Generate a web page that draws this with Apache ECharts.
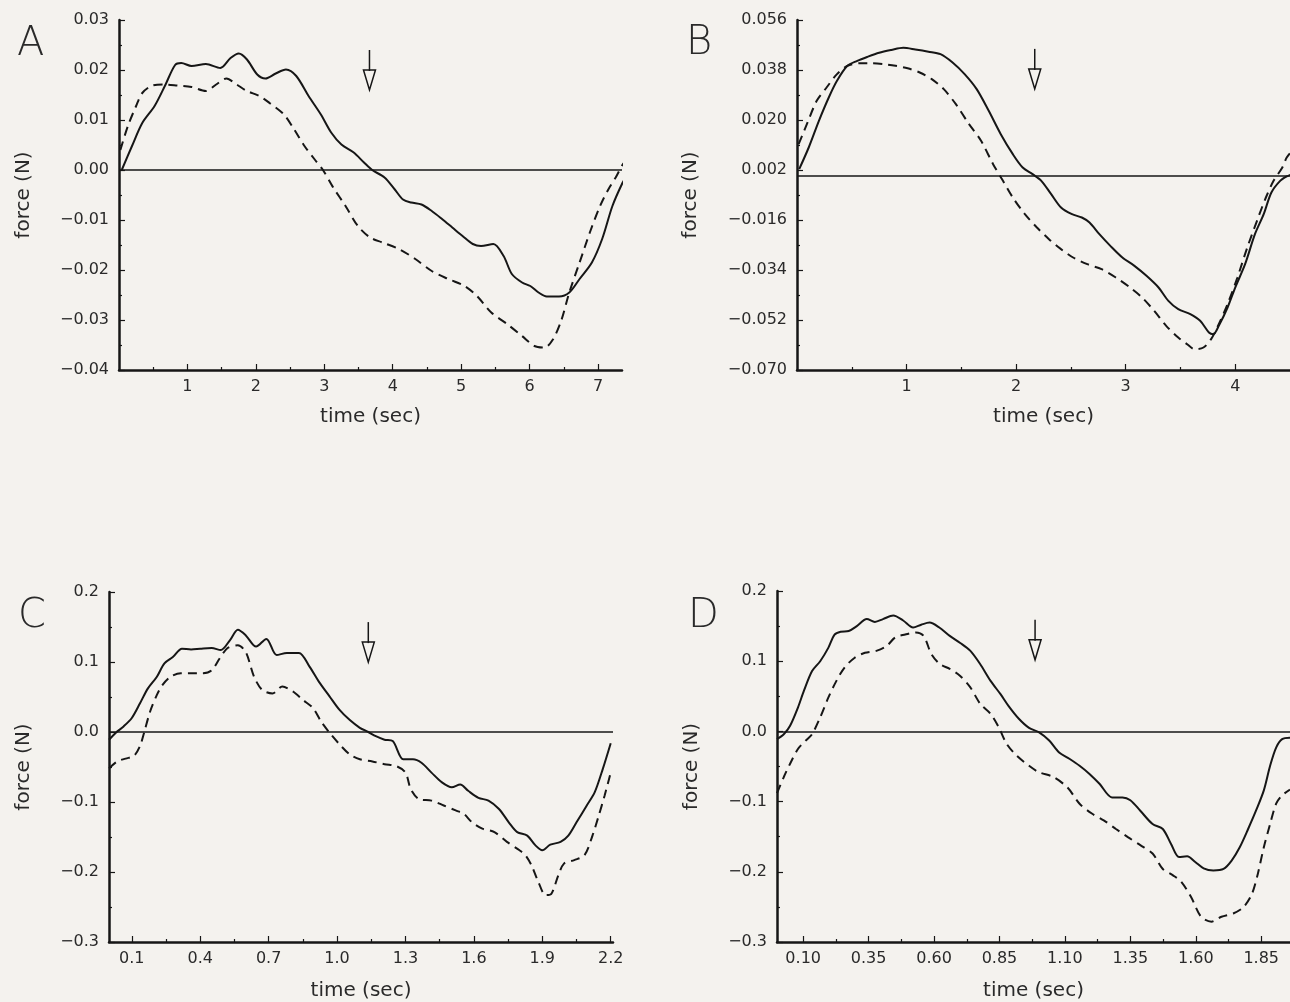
<!DOCTYPE html>
<html>
<head>
<meta charset="utf-8">
<script src="https://cdn.jsdelivr.net/npm/echarts@6/dist/echarts.min.js"></script>
<style>
html,body{margin:0;padding:0;background:#f4f2ee;}
#chart{width:1290px;height:1002px;}
</style>
</head>
<body>
<div id="chart"></div>
<script>
// ---------------- DATA ----------------
// Panel A: time (sec), force (N)
const aSolid = [[0.04,0],[0.19,0.0048],[0.34,0.0094],[0.52,0.0128],[0.67,0.0168],[0.82,0.021],[0.91,0.0214],[1.06,0.0208],[1.27,0.0212],[1.48,0.0204],[1.63,0.0224],[1.75,0.0233],[1.87,0.0221],[2.02,0.0191],[2.14,0.0183],[2.29,0.0193],[2.44,0.0201],[2.59,0.0188],[2.77,0.0148],[2.95,0.0111],[3.10,0.0075],[3.25,0.0051],[3.43,0.0035],[3.58,0.0015],[3.70,0],[3.88,-0.0015],[4.03,-0.0039],[4.15,-0.0059],[4.27,-0.0065],[4.42,-0.0069],[4.57,-0.0082],[4.72,-0.0098],[4.87,-0.0115],[5.02,-0.0132],[5.17,-0.0148],[5.29,-0.0152],[5.47,-0.0148],[5.62,-0.0172],[5.74,-0.0208],[5.89,-0.0225],[6.01,-0.0232],[6.13,-0.0245],[6.25,-0.0253],[6.43,-0.0253],[6.58,-0.0245],[6.73,-0.0218],[6.91,-0.0185],[7.06,-0.0138],[7.21,-0.0072],[7.36,-0.0025],[7.42,-0.0012]];
const aDashed = [[0.02,0.004],[0.13,0.0088],[0.25,0.0128],[0.34,0.0154],[0.49,0.0169],[0.67,0.0171],[0.85,0.0169],[1.06,0.0166],[1.27,0.0158],[1.42,0.0171],[1.57,0.0183],[1.72,0.0171],[1.87,0.0158],[2.05,0.0148],[2.20,0.0134],[2.41,0.0111],[2.56,0.0081],[2.71,0.0048],[2.86,0.0021],[2.98,0],[3.13,-0.0035],[3.31,-0.0072],[3.49,-0.0112],[3.67,-0.0135],[3.85,-0.0145],[4.09,-0.0158],[4.33,-0.0178],[4.57,-0.0202],[4.81,-0.0218],[5.05,-0.0232],[5.23,-0.0252],[5.44,-0.0285],[5.68,-0.0309],[5.89,-0.0332],[6.07,-0.0352],[6.22,-0.0355],[6.34,-0.0339],[6.46,-0.0302],[6.58,-0.0245],[6.73,-0.0185],[6.88,-0.0125],[7.03,-0.0072],[7.15,-0.0039],[7.27,-0.0012],[7.36,0.0011],[7.42,0.002]];
const aArrow = [[3.66, 0.024]];
const aXTicks = [1,2,3,4,5,6,7];
const aXMinor = [0.5,1.5,2.5,3.5,4.5,5.5,6.5];
const aYTicks = [-0.04,-0.03,-0.02,-0.01,0,0.01,0.02,0.03];
const aYMinor = [-0.035,-0.025,-0.015,-0.005,0.005,0.015,0.025];
const aBaseline = 0;

// Panel B
const bSolid = [[0.02,0.0023],[0.107,0.0101],[0.2,0.0197],[0.29,0.0281],[0.365,0.0341],[0.46,0.0395],[0.55,0.0413],[0.64,0.0427],[0.75,0.0442],[0.86,0.0452],[0.97,0.046],[1.08,0.0454],[1.2,0.0446],[1.31,0.0437],[1.42,0.0407],[1.53,0.0365],[1.64,0.0311],[1.75,0.0233],[1.86,0.0149],[1.97,0.0077],[2.06,0.0029],[2.15,0.0005],[2.23,-0.0019],[2.32,-0.0067],[2.41,-0.0115],[2.51,-0.0139],[2.6,-0.0151],[2.67,-0.0169],[2.76,-0.0211],[2.86,-0.0253],[2.97,-0.0295],[3.08,-0.0325],[3.19,-0.0361],[3.3,-0.0403],[3.39,-0.0451],[3.48,-0.0481],[3.59,-0.0499],[3.68,-0.0523],[3.76,-0.0565],[3.8,-0.0571],[3.85,-0.0541],[3.93,-0.0475],[4.0,-0.0403],[4.09,-0.0319],[4.18,-0.0211],[4.26,-0.0139],[4.33,-0.0061],[4.41,-0.0019],[4.47,-0.0003],[4.52,0.0005]];
const bDashed = [[0.015,0.0113],[0.09,0.0185],[0.18,0.0269],[0.27,0.0317],[0.365,0.0365],[0.46,0.0395],[0.57,0.0404],[0.68,0.0404],[0.79,0.0401],[0.9,0.0395],[1.01,0.0386],[1.12,0.0371],[1.23,0.0347],[1.34,0.0311],[1.45,0.0257],[1.56,0.0191],[1.68,0.0125],[1.79,0.0041],[1.88,-0.0019],[1.97,-0.0079],[2.08,-0.0139],[2.19,-0.0187],[2.3,-0.0229],[2.41,-0.0265],[2.52,-0.0295],[2.65,-0.0319],[2.78,-0.0337],[2.91,-0.0367],[3.04,-0.0403],[3.15,-0.0439],[3.26,-0.0487],[3.37,-0.0541],[3.48,-0.0583],[3.56,-0.0607],[3.63,-0.0625],[3.71,-0.0619],[3.78,-0.0589],[3.85,-0.0535],[3.93,-0.0463],[4.02,-0.0367],[4.11,-0.0259],[4.21,-0.0151],[4.28,-0.0079],[4.35,-0.0019],[4.43,0.0029],[4.47,0.0065],[4.52,0.009]];
const bArrow = [[2.17, 0.0456]];
const bXTicks = [1,2,3,4];
const bXMinor = [0.5,1.5,2.5,3.5];
const bYTicks = [-0.070,-0.052,-0.034,-0.016,0.002,0.020,0.038,0.056];
const bYMinor = [-0.061,-0.043,-0.025,-0.007,0.011,0.029,0.047];
const bBaseline = -0.001;

// Panel C
const cSolid = [[0.0,-0.011],[0.03,-0.001],[0.064,0.008],[0.1,0.02],[0.136,0.041],[0.17,0.062],[0.21,0.079],[0.243,0.098],[0.28,0.107],[0.32,0.119],[0.36,0.118],[0.4,0.119],[0.45,0.12],[0.49,0.117],[0.53,0.131],[0.565,0.146],[0.6,0.138],[0.645,0.122],[0.69,0.133],[0.735,0.11],[0.78,0.113],[0.833,0.113],[0.88,0.093],[0.92,0.072],[0.967,0.051],[1.01,0.032],[1.056,0.017],[1.1,0.006],[1.137,0],[1.17,-0.006],[1.208,-0.011],[1.244,-0.013],[1.29,-0.039],[1.333,-0.039],[1.37,-0.044],[1.414,-0.058],[1.46,-0.072],[1.503,-0.079],[1.54,-0.075],[1.575,-0.084],[1.62,-0.094],[1.664,-0.098],[1.71,-0.11],[1.753,-0.129],[1.79,-0.143],[1.834,-0.148],[1.87,-0.162],[1.9,-0.169],[1.935,-0.161],[1.98,-0.157],[2.014,-0.148],[2.05,-0.129],[2.095,-0.105],[2.13,-0.086],[2.165,-0.053],[2.2,-0.016]];
const cDashed = [[0.0,-0.052],[0.036,-0.042],[0.073,-0.038],[0.11,-0.034],[0.136,-0.02],[0.154,-0.001],[0.18,0.029],[0.21,0.053],[0.234,0.067],[0.27,0.079],[0.315,0.084],[0.36,0.084],[0.413,0.084],[0.45,0.088],[0.485,0.105],[0.52,0.12],[0.565,0.124],[0.6,0.114],[0.636,0.079],[0.672,0.06],[0.717,0.055],[0.76,0.065],[0.806,0.058],[0.85,0.046],[0.895,0.034],[0.93,0.015],[0.967,-0.001],[1.012,-0.018],[1.056,-0.032],[1.1,-0.039],[1.155,-0.042],[1.208,-0.046],[1.262,-0.049],[1.3,-0.058],[1.324,-0.082],[1.36,-0.096],[1.414,-0.098],[1.468,-0.105],[1.52,-0.112],[1.556,-0.117],[1.592,-0.129],[1.637,-0.138],[1.69,-0.143],[1.745,-0.157],[1.8,-0.169],[1.826,-0.176],[1.852,-0.19],[1.88,-0.212],[1.915,-0.233],[1.94,-0.231],[1.97,-0.205],[1.995,-0.188],[2.04,-0.183],[2.085,-0.176],[2.12,-0.148],[2.147,-0.12],[2.173,-0.091],[2.2,-0.058]];
const cArrow = [[1.137, 0.157]];
const cXTicks = [0.1,0.4,0.7,1.0,1.3,1.6,1.9,2.2];
const cXMinor = [0.25,0.55,0.85,1.15,1.45,1.75,2.05];
const cYTicks = [-0.3,-0.2,-0.1,0,0.1,0.2];
const cYMinor = [-0.25,-0.15,-0.05,0.05,0.15];
const cBaseline = 0;

// Panel D
const dSolid = [[0.0,-0.011],[0.026,-0.004],[0.05,0.008],[0.08,0.034],[0.103,0.058],[0.134,0.086],[0.165,0.1],[0.196,0.119],[0.22,0.138],[0.243,0.142],[0.274,0.143],[0.305,0.15],[0.343,0.16],[0.374,0.156],[0.405,0.16],[0.444,0.165],[0.482,0.158],[0.52,0.148],[0.551,0.152],[0.583,0.155],[0.62,0.148],[0.66,0.136],[0.7,0.126],[0.738,0.115],[0.776,0.096],[0.816,0.072],[0.854,0.053],[0.885,0.036],[0.924,0.018],[0.963,0.005],[1.0,-0.001],[1.04,-0.013],[1.078,-0.03],[1.117,-0.039],[1.156,-0.049],[1.195,-0.061],[1.233,-0.075],[1.28,-0.094],[1.32,-0.094],[1.35,-0.098],[1.388,-0.113],[1.435,-0.132],[1.474,-0.139],[1.505,-0.16],[1.536,-0.179],[1.567,-0.178],[1.598,-0.186],[1.63,-0.195],[1.667,-0.198],[1.706,-0.196],[1.737,-0.184],[1.768,-0.165],[1.8,-0.139],[1.83,-0.113],[1.86,-0.084],[1.884,-0.049],[1.907,-0.023],[1.93,-0.011],[1.96,-0.009]];
const dDashed = [[0.0,-0.088],[0.026,-0.065],[0.05,-0.046],[0.08,-0.025],[0.11,-0.013],[0.134,-0.004],[0.165,0.02],[0.196,0.048],[0.227,0.072],[0.258,0.091],[0.297,0.105],[0.336,0.112],[0.382,0.115],[0.42,0.122],[0.452,0.134],[0.49,0.138],[0.53,0.141],[0.56,0.136],[0.59,0.11],[0.622,0.096],[0.66,0.089],[0.7,0.079],[0.738,0.063],[0.777,0.039],[0.816,0.025],[0.847,0.006],[0.878,-0.018],[0.917,-0.035],[0.963,-0.049],[1.0,-0.058],[1.056,-0.065],[1.11,-0.08],[1.156,-0.103],[1.203,-0.117],[1.25,-0.127],[1.295,-0.139],[1.342,-0.151],[1.388,-0.162],[1.435,-0.174],[1.474,-0.196],[1.513,-0.205],[1.544,-0.214],[1.582,-0.236],[1.62,-0.264],[1.66,-0.271],[1.698,-0.264],[1.745,-0.259],[1.783,-0.25],[1.815,-0.231],[1.837,-0.203],[1.86,-0.165],[1.884,-0.132],[1.907,-0.103],[1.93,-0.091],[1.96,-0.083]];
const dArrow = [[0.986, 0.159]];
const dXTicks = [0.10,0.35,0.60,0.85,1.10,1.35,1.60,1.85];
const dXMinor = [0.225,0.475,0.725,0.975,1.225,1.475,1.725];
const dYTicks = [-0.3,-0.2,-0.1,0,0.1,0.2];
const dYMinor = [-0.25,-0.15,-0.05,0.05,0.15];
const dBaseline = 0;

const panelLetters = ['A','B','C','D'];
const xName = 'time (sec)';
const yName = 'force (N)';

// ---------------- CHART ----------------
const INK = '#161616';
const FONT = "'DejaVu Sans', sans-serif";
const minus = s => s.replace('-', '\u2212');

const panels = [
  {grid:{left:119,top:20,width:503,height:350}, x:[0,7.35], y:[-0.04,0.03], xt:aXTicks, xm:aXMinor, yt:aYTicks, ym:aYMinor, xd:0, yd:2, solid:aSolid, dashed:aDashed, arrow:aArrow, base:aBaseline, yGap:85, xGap:37},
  {grid:{left:797,top:20,width:498,height:350}, x:[0,4.5], y:[-0.070,0.056], xt:bXTicks, xm:bXMinor, yt:bYTicks, ym:bYMinor, xd:0, yd:3, solid:bSolid, dashed:bDashed, arrow:bArrow, base:bBaseline, yGap:96, xGap:37},
  {grid:{left:109,top:592,width:504,height:352}, x:[0,2.21], y:[-0.3,0.2], xt:cXTicks, xm:cXMinor, yt:cYTicks, ym:cYMinor, xd:1, yd:1, solid:cSolid, dashed:cDashed, arrow:cArrow, base:cBaseline, yGap:75, xGap:39},
  {grid:{left:777,top:591,width:518,height:352}, x:[0,1.96], y:[-0.3,0.2], xt:dXTicks, xm:dXMinor, yt:dYTicks, ym:dYMinor, xd:2, yd:1, solid:dSolid, dashed:dDashed, arrow:dArrow, base:dBaseline, yGap:75, xGap:39}
];

const grids = [], xAxes = [], yAxes = [], series = [];
const labelStyle = {color:'#2a2a2a', fontSize:16, fontFamily:FONT};
panels.forEach((p, i) => {
  grids.push(Object.assign({containLabel:false}, p.grid));
  xAxes.push({
    type:'value', gridIndex:i, min:p.x[0], max:p.x[1], position:'bottom',
    name:xName, nameLocation:'middle', nameGap:p.xGap,
    nameTextStyle:{color:'#2a2a2a', fontSize:20, fontFamily:FONT},
    axisLine:{show:true, onZero:false, lineStyle:{color:INK, width:2.5}},
    axisTick:{show:true, inside:true, length:6, customValues:p.xt, lineStyle:{color:INK, width:1.2}},
    axisLabel:{show:true, customValues:p.xt, margin:9, formatter:v => minus(v.toFixed(p.xd)), ...labelStyle},
    splitLine:{show:false}
  });
  xAxes.push({
    type:'value', gridIndex:i, min:p.x[0], max:p.x[1], position:'bottom',
    axisLine:{show:false, onZero:false},
    axisTick:{show:true, inside:true, length:3, customValues:p.xm, lineStyle:{color:INK, width:1.2}},
    axisLabel:{show:false}, splitLine:{show:false}
  });
  yAxes.push({
    type:'value', gridIndex:i, min:p.y[0], max:p.y[1], position:'left',
    name:yName, nameLocation:'middle', nameGap:p.yGap,
    nameTextStyle:{color:'#2a2a2a', fontSize:20, fontFamily:FONT},
    axisLine:{show:true, onZero:false, lineStyle:{color:INK, width:2.5}},
    axisTick:{show:true, inside:true, length:6, customValues:p.yt, lineStyle:{color:INK, width:1.2}},
    axisLabel:{show:true, customValues:p.yt, margin:10, formatter:v => minus(v.toFixed(p.yd)), ...labelStyle},
    splitLine:{show:false}
  });
  yAxes.push({
    type:'value', gridIndex:i, min:p.y[0], max:p.y[1], position:'left',
    axisLine:{show:false, onZero:false},
    axisTick:{show:true, inside:true, length:3, customValues:p.ym, lineStyle:{color:INK, width:1.2}},
    axisLabel:{show:false}, splitLine:{show:false}
  });
  const xi = i*2, yi = i*2;
  series.push({
    type:'line', xAxisIndex:xi, yAxisIndex:yi, data:p.solid, showSymbol:false, smooth:0.3,
    lineStyle:{color:INK, width:2}, silent:true, z:3,
    markLine:{silent:true, symbol:'none', label:{show:false},
      lineStyle:{color:INK, width:1.5, type:'solid'}, data:[{yAxis:p.base}]}
  });
  series.push({
    type:'line', xAxisIndex:xi, yAxisIndex:yi, data:p.dashed, showSymbol:false, smooth:0.3,
    lineStyle:{color:INK, width:2, type:[9,6]}, silent:true, z:3
  });
  series.push({
    type:'custom', xAxisIndex:xi, yAxisIndex:yi, data:p.arrow, silent:true, z:4,
    renderItem:(params, api) => {
      const c = api.coord([api.value(0), api.value(1)]);
      const x = c[0], y = c[1];
      return {type:'group', children:[
        {type:'line', shape:{x1:x, y1:y, x2:x, y2:y+21}, style:{stroke:INK, lineWidth:1.5}},
        {type:'polygon', shape:{points:[[x-6,y+20],[x+6,y+20],[x,y+40]]}, style:{fill:'none', stroke:INK, lineWidth:1.5}}
      ]};
    }
  });
});

const letterPos = [[12,20],[681,19],[13,592],[683,592]];
const titles = panelLetters.map((t, i) => ({
  text:t, left:letterPos[i][0], top:letterPos[i][1],
  textStyle:{fontSize:40, fontWeight:200, color:'#2a2a2a', fontFamily:"'DejaVu Sans ExtraLight', 'DejaVu Sans', sans-serif"}
}));

const chart = echarts.init(document.getElementById('chart'), null, {renderer:'canvas'});
chart.setOption({
  backgroundColor:'#f4f2ee',
  animation:false,
  title:titles,
  grid:grids, xAxis:xAxes, yAxis:yAxes, series:series
});
</script>
</body>
</html>
